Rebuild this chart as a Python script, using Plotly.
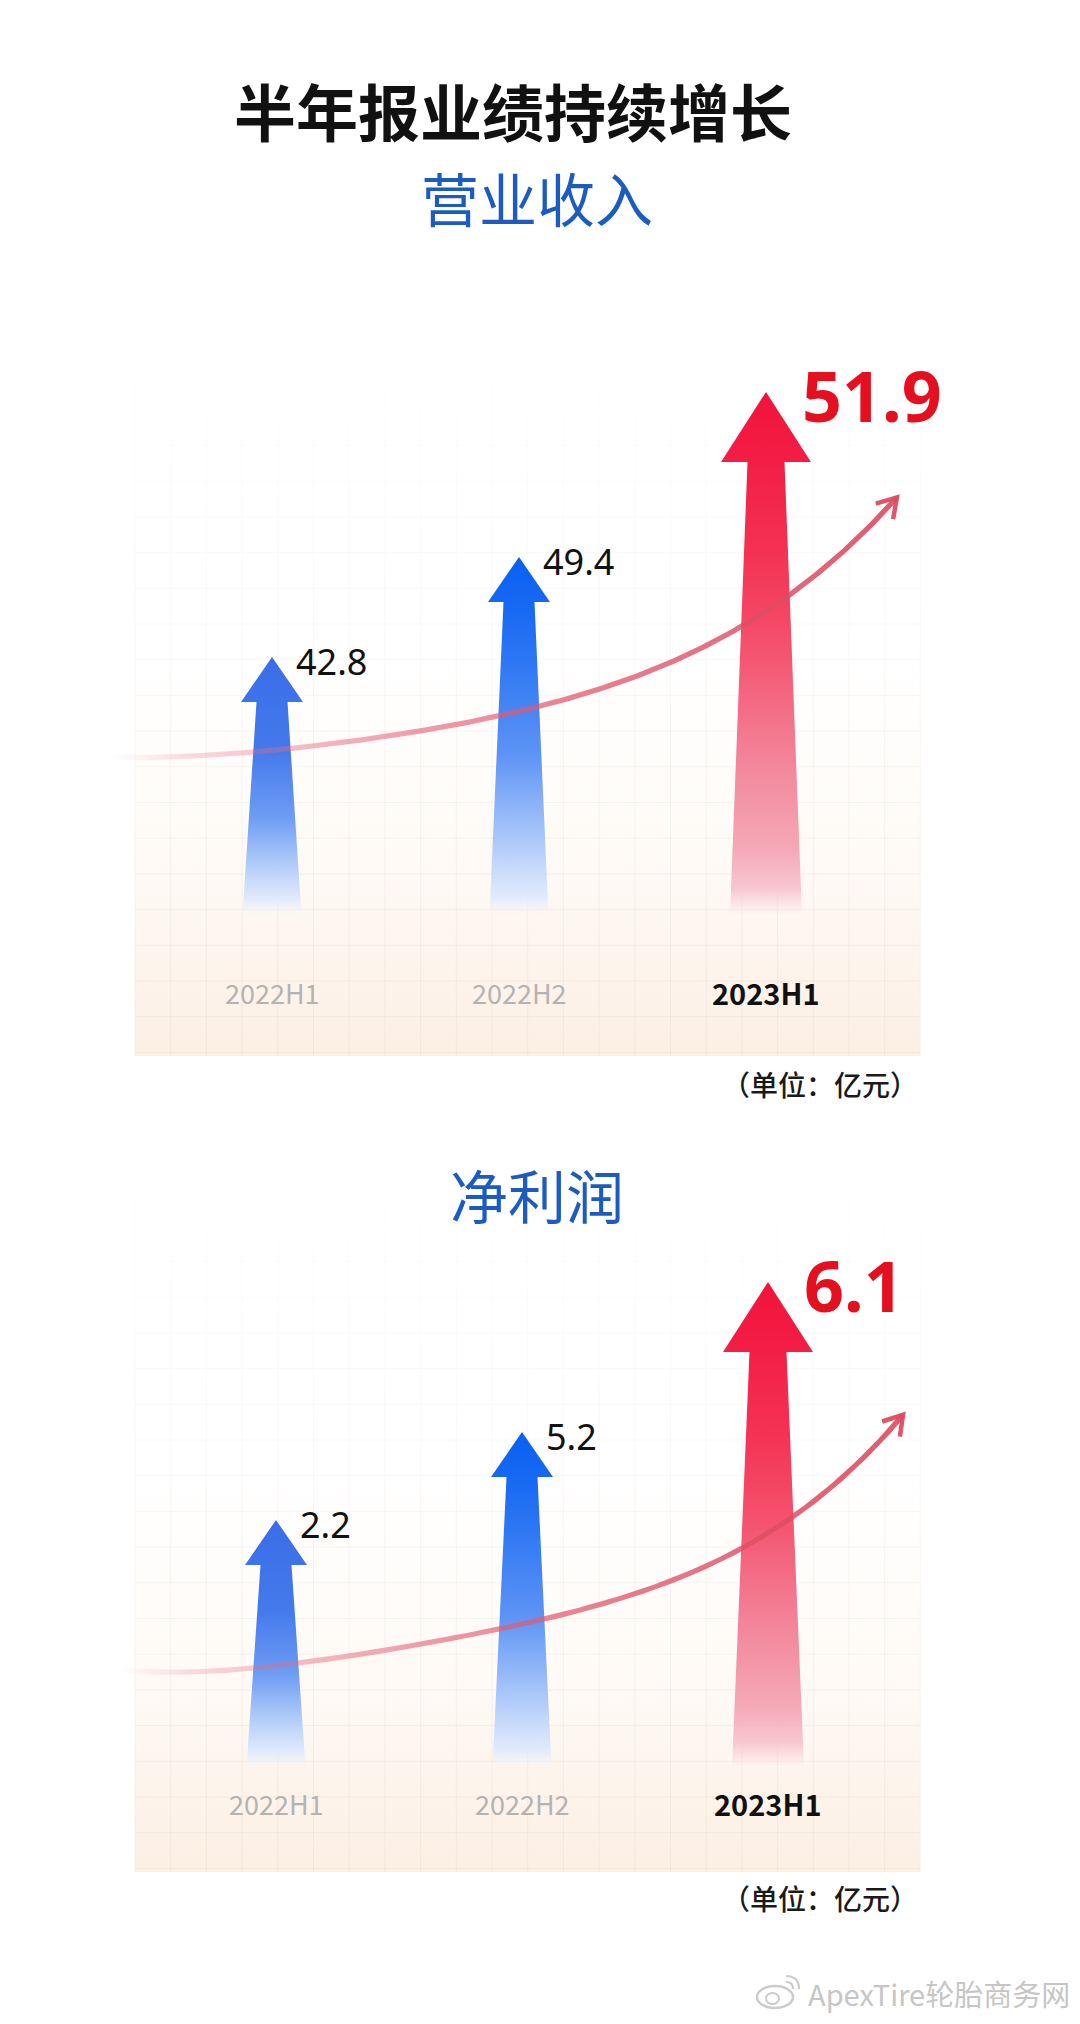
import numpy as np
import plotly.graph_objects as go

W, H = 1080, 2024

# ---------------- data ----------------
periods = ["2022H1", "2022H2", "2023H1"]
revenue = [42.8, 49.4, 51.9]          # 营业收入, 亿元
net_profit = [2.2, 5.2, 6.1]          # 净利润, 亿元
# the infographic arrows are not drawn to a linear scale: tip heights as drawn (chart units above the panel floor)
revenue_arrow_tip = [399, 499, 664]
profit_arrow_tip = [352, 440, 590]
# decorative rising trend curve, control points (x: period index, y: chart units)
revenue_trend_x = [-0.652, 0.008, 0.599, 0.964, 1.652, 2.085, 2.328, 2.530]
revenue_trend_y = [299, 306, 324, 344, 397, 459, 509, 558]
profit_trend_x = [-0.634, -0.268, 0.020, 0.411, 0.679, 1.033, 1.480, 1.915, 2.159, 2.362, 2.549]
profit_trend_y = [202, 200, 209, 220, 229, 252, 279, 329, 365, 405, 459]

title_text = "半年报业绩持续增长"
subtitles = ["营业收入", "净利润"]
unit_text = "（单位：亿元）"
watermark = "ApexTire轮胎商务网"

# ---------------- layout / style constants ----------------
CJK = "Noto Sans CJK SC"
LAT = "Noto Sans"

charts = [
    dict(xa="x", ya="y", top=330, bottom=1130, floor=1056, x0=272, sx=247,
         panel_h=681, arrow_base=141, label_y=64, unit_px=1084, sub_px=197,
         values=revenue, tips=revenue_arrow_tip, tx=revenue_trend_x, ty=revenue_trend_y),
    dict(xa="x2", ya="y2", top=1150, bottom=1950, floor=1872, x0=276, sx=246,
         panel_h=681, arrow_base=105, label_y=69, unit_px=1898, sub_px=1194,
         values=net_profit, tips=profit_arrow_tip, tx=profit_trend_x, ty=profit_trend_y),
]

PANEL_L, PANEL_R = 135, 920
GRID = 35.7

ARROW_NORMAL = dict(head_hw=31, head_h=45, top_hw=15.5, bot_hw=29.5)
ARROW_HI = dict(head_hw=45, head_h=70, top_hw=18.5, bot_hw=36)

BLUE_SCALES = [
    [[0, "rgba(230,238,253,0)"], [0.06, "rgba(222,233,253,0.9)"], [0.19, "#b3cdf9"],
     [0.38, "#6d9cf3"], [0.64, "#4479ec"], [1, "#3a6de8"]],
    [[0, "rgba(230,238,253,0)"], [0.05, "rgba(222,233,253,0.9)"], [0.18, "#b5cffa"],
     [0.45, "#5d93f5"], [0.73, "#2a75f3"], [0.87, "#1668f2"], [1, "#0861f2"]],
]
RED_SCALE = [[0, "rgba(248,200,210,0)"], [0.05, "rgba(247,190,202,0.85)"], [0.12, "#f5aab8"],
             [0.33, "#f27d93"], [0.49, "#f45670"], [0.68, "#f43355"], [0.87, "#f31d45"],
             [1, "#f2133b"]]
PANEL_SCALE = [[0, "#fcefe4"], [0.1, "#fdf3ea"], [0.25, "#fef9f4"], [0.42, "#fffdfb"],
               [0.6, "#ffffff"], [1, "#ffffff"]]
TOP_FADE = [[0, "rgba(255,255,255,0)"], [0.6, "rgba(255,255,255,0.55)"],
            [1, "rgba(255,255,255,0.92)"]]
TREND_SCALE = [[0, "rgba(236,120,140,0)"], [0.1, "rgba(234,110,132,0.25)"],
               [0.22, "rgba(232,104,126,0.42)"], [0.4, "rgba(228,94,116,0.62)"],
               [0.62, "rgba(224,84,106,0.75)"], [1, "rgba(220,72,92,0.9)"]]
TREND_END = "rgba(220,72,92,0.92)"

fig = go.Figure()
annotations = []


def ux(c, xpx):
    return (xpx - c["x0"]) / c["sx"]


for c in charts:
    xa, ya, sx = c["xa"], c["ya"], c["sx"]
    ph = c["panel_h"]
    # panel background
    pl, pr = ux(c, PANEL_L), ux(c, PANEL_R)
    fig.add_trace(go.Scatter(
        x=[pl, pr, pr, pl, pl], y=[0, 0, ph, ph, 0],
        mode="lines", line=dict(width=0), fill="toself",
        fillgradient=dict(type="vertical", colorscale=PANEL_SCALE, start=0, stop=ph),
        hoverinfo="skip", xaxis=xa, yaxis=ya))
    # grid
    gx, gy = [], []
    xp = PANEL_L
    while xp <= PANEL_R + 1:
        gx += [ux(c, xp), ux(c, xp), None]
        gy += [0, ph, None]
        xp += GRID
    yv = 3.6
    while yv <= ph:
        gx += [pl, pr, None]
        gy += [yv, yv, None]
        yv += GRID
    fig.add_trace(go.Scatter(x=gx, y=gy, mode="lines",
                             line=dict(width=1, color="rgba(150,120,100,0.075)"),
                             hoverinfo="skip", xaxis=xa, yaxis=ya))
    # fade the top of the panel into the page
    fy0 = ph * 0.45
    fig.add_trace(go.Scatter(
        x=[pl - 0.01, pr + 0.01, pr + 0.01, pl - 0.01, pl - 0.01], y=[fy0, fy0, ph + 2, ph + 2, fy0],
        mode="lines", line=dict(width=0), fill="toself",
        fillgradient=dict(type="vertical", colorscale=TOP_FADE, start=fy0, stop=ph + 2),
        hoverinfo="skip", xaxis=xa, yaxis=ya))
    # arrows
    n = len(c["values"])
    for i, tip in enumerate(c["tips"]):
        hi = (i == n - 1)
        st = ARROW_HI if hi else ARROW_NORMAL
        b = c["arrow_base"]
        hb = tip - st["head_h"]
        xs = [i - st["bot_hw"] / sx, i - st["top_hw"] / sx, i - st["head_hw"] / sx, i,
              i + st["head_hw"] / sx, i + st["top_hw"] / sx, i + st["bot_hw"] / sx,
              i - st["bot_hw"] / sx]
        ys = [b, hb, hb, tip, hb, hb, b, b]
        scale = RED_SCALE if hi else BLUE_SCALES[min(i, 1)]
        fig.add_trace(go.Scatter(
            x=xs, y=ys, mode="lines", line=dict(width=0), fill="toself",
            fillgradient=dict(type="vertical", colorscale=scale, start=b, stop=tip),
            hoverinfo="skip", xaxis=xa, yaxis=ya))
        # value label
        if hi:
            annotations.append(dict(
                x=i + 34 / sx, y=tip - 3, xref=xa, yref=ya, text=f"{c['values'][i]}",
                showarrow=False, xanchor="left", yanchor="middle",
                font=dict(family=LAT, size=70, color="#e5101f", weight=700)))
        else:
            annotations.append(dict(
                x=i + 22 / sx, y=tip - 4, xref=xa, yref=ya, text=f"{c['values'][i]}",
                showarrow=False, xanchor="left", yanchor="middle",
                font=dict(family=LAT, size=36, color="#111111")))
        # category label
        annotations.append(dict(
            x=i, y=c["label_y"], xref=xa, yref=ya, text=periods[i], showarrow=False,
            xanchor="center", yanchor="middle",
            font=dict(family=CJK, size=29 if hi else 27, color="#111111" if hi else "#b3b3b3",
                      weight=700 if hi else 400)))
    # trend curve (ribbon with horizontal gradient)
    tx_px = c["x0"] + sx * np.array(c["tx"], dtype=float)
    ty_px = c["floor"] - np.array(c["ty"], dtype=float)
    m, s = tx_px.mean(), tx_px.std()
    coef = np.polyfit((tx_px - m) / s, ty_px, 4)
    xx = np.linspace(tx_px[0], tx_px[-1], 260)
    yy = np.polyval(coef, (xx - m) / s)
    dx, dy = np.gradient(xx), np.gradient(yy)
    L = np.hypot(dx, dy)
    nx, ny = -dy / L, dx / L
    half = 2.6
    rx = np.concatenate([xx + nx * half, (xx - nx * half)[::-1]])
    ry = np.concatenate([yy + ny * half, (yy - ny * half)[::-1]])
    fig.add_trace(go.Scatter(
        x=(rx - c["x0"]) / sx, y=c["floor"] - ry, mode="lines", line=dict(width=0),
        fill="toself",
        fillgradient=dict(type="horizontal", colorscale=TREND_SCALE,
                          start=(xx[0] - c["x0"]) / sx, stop=(xx[-1] - c["x0"]) / sx),
        hoverinfo="skip", xaxis=xa, yaxis=ya))
    # chevron head
    tvx, tvy = dx[-1] / L[-1], dy[-1] / L[-1]
    bx, by = -tvx, -tvy
    arms = []
    for ang in (np.radians(32), -np.radians(32)):
        ca, sa = np.cos(ang), np.sin(ang)
        arms.append((xx[-1] + 22 * (bx * ca - by * sa), yy[-1] + 22 * (bx * sa + by * ca)))
    chx = [arms[0][0], xx[-1], arms[1][0]]
    chy = [arms[0][1], yy[-1], arms[1][1]]
    fig.add_trace(go.Scatter(
        x=[(v - c["x0"]) / sx for v in chx], y=[c["floor"] - v for v in chy],
        mode="lines", line=dict(width=4.5, color=TREND_END),
        hoverinfo="skip", xaxis=xa, yaxis=ya))
    # unit note
    annotations.append(dict(
        x=PANEL_R / W, y=1 - c["unit_px"] / H, xref="paper", yref="paper", text=unit_text,
        showarrow=False, xanchor="right", yanchor="middle",
        font=dict(family=CJK, size=28, color="#1a1a1a", weight=500)))

# titles
annotations.append(dict(x=513 / W, y=1 - 110 / H, xref="paper", yref="paper", text=title_text,
                        showarrow=False, xanchor="center", yanchor="middle",
                        font=dict(family=CJK, size=62, color="#111111", weight=700)))
for c, sub in zip(charts, subtitles):
    annotations.append(dict(x=537 / W, y=1 - c["sub_px"] / H, xref="paper", yref="paper",
                            text=sub, showarrow=False, xanchor="center", yanchor="middle",
                            font=dict(family=CJK, size=58, color="#1c5cc0")))
# watermark
annotations.append(dict(x=806 / W, y=1 - 1993 / H, xref="paper", yref="paper", text=watermark,
                        showarrow=False, xanchor="left", yanchor="middle",
                        font=dict(family=CJK, size=29, color="#c6c6c6")))


def P(xp, yp):
    return xp / W, 1 - yp / H


shapes = []
x0_, y0_ = P(757, 1986)
x1_, y1_ = P(793, 2008)
shapes.append(dict(type="circle", xref="paper", yref="paper", x0=x0_, y0=y1_, x1=x1_, y1=y0_,
                   line=dict(color="#cccccc", width=2.5)))
x0_, y0_ = P(766, 1993)
x1_, y1_ = P(779, 2004)
shapes.append(dict(type="circle", xref="paper", yref="paper", x0=x0_, y0=y1_, x1=x1_, y1=y0_,
                   line=dict(color="#cccccc", width=2)))
for r in (7, 13):
    a0 = P(786, 1982 - r + 7)
    a1 = P(793 + r - 7, 1989)
    ctrl = P(793 + r - 7, 1982 - r + 7)
    shapes.append(dict(type="path", xref="paper", yref="paper",
                       path=f"M {a0[0]} {a0[1]} Q {ctrl[0]} {ctrl[1]} {a1[0]} {a1[1]}",
                       line=dict(color="#cccccc", width=2.2)))

layout_axes = {}
for k, c in enumerate(charts):
    sfx = "" if k == 0 else str(k + 1)
    layout_axes["xaxis" + sfx] = dict(domain=[0, 1], range=[-c["x0"] / c["sx"], (W - c["x0"]) / c["sx"]],
                                      visible=False, fixedrange=True,
                                      anchor="y" + sfx)
    layout_axes["yaxis" + sfx] = dict(domain=[1 - c["bottom"] / H, 1 - c["top"] / H],
                                      range=[c["floor"] - c["bottom"], c["floor"] - c["top"]],
                                      visible=False, fixedrange=True, anchor="x" + sfx)

fig.update_layout(width=W, height=H, margin=dict(l=0, r=0, t=0, b=0),
                  paper_bgcolor="white", plot_bgcolor="rgba(0,0,0,0)", showlegend=False,
                  annotations=annotations, shapes=shapes, **layout_axes)

fig.write_html("out.html", config={"displayModeBar": False},
               post_script="document.body.style.margin='0px';document.body.style.overflow='hidden';")
